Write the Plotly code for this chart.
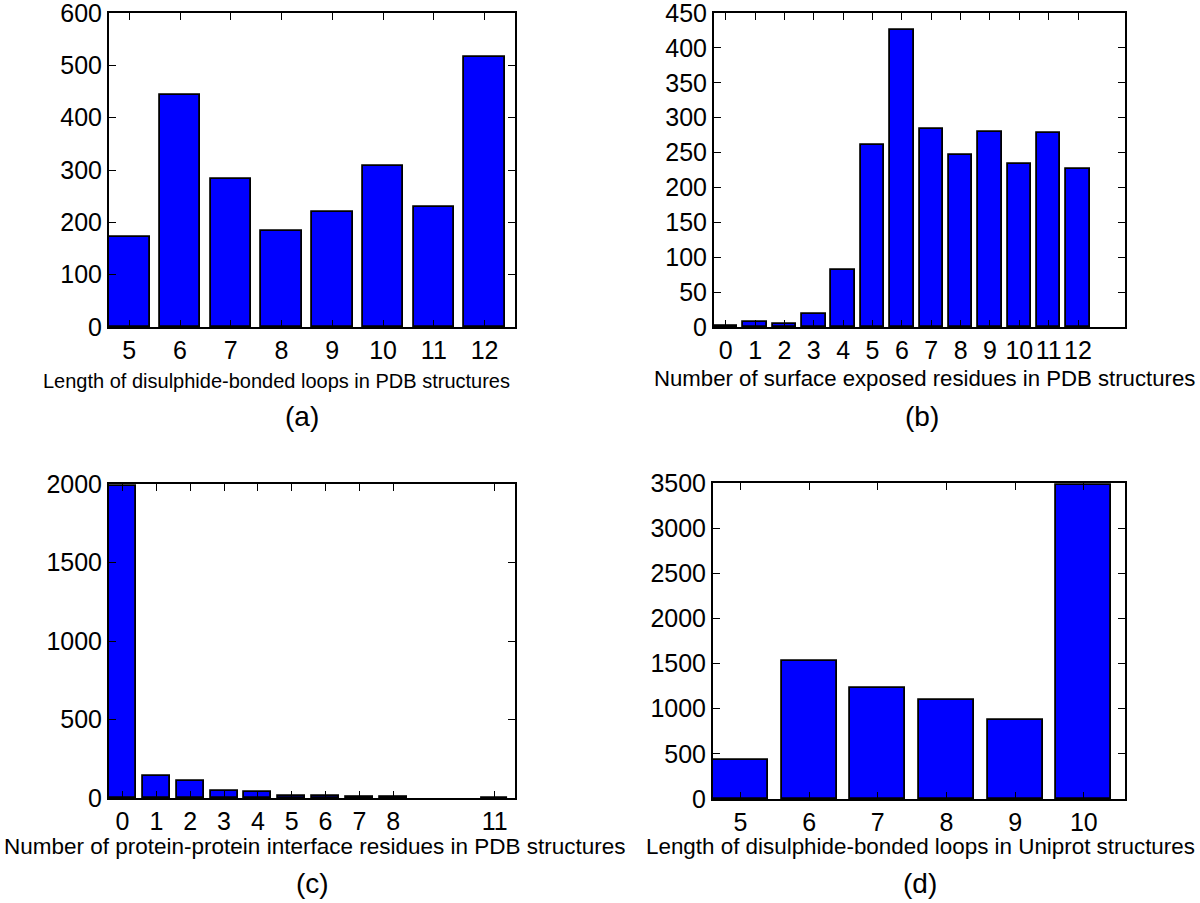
import plotly.graph_objects as go

W, H = 1200, 903

# ---- data ----
a_x = [5, 6, 7, 8, 9, 10, 11, 12]
a_y = [172, 443, 282, 183, 220, 308, 229, 515]

b_x = [0, 1, 2, 3, 4, 5, 6, 7, 8, 9, 10, 11, 12]
b_y = [2, 7, 5, 19, 81, 261, 425, 284, 247, 279, 234, 278, 227]

c_x = [0, 1, 2, 3, 4, 5, 6, 7, 8, 9, 10, 11]
c_y = [1990, 138, 110, 47, 38, 15, 10, 6, 5, 0, 0, 3]
c_ticks = [0, 1, 2, 3, 4, 5, 6, 7, 8, 11]

d_x = [5, 6, 7, 8, 9, 10]
d_y = [437, 1526, 1230, 1096, 874, 3478]

titles = [
    "Length of disulphide-bonded loops in PDB structures",
    "Number of surface exposed residues in PDB structures",
    "Number of protein-protein interface residues in PDB structures",
    "Length of disulphide-bonded loops in Uniprot structures",
]
labels = ["(a)", "(b)", "(c)", "(d)"]

FONT = "Liberation Sans, Arial, Helvetica, sans-serif"

# panel boxes in pixels: (left, right, top, bottom)
boxes = [
    (109, 515, 13, 327),
    (714, 1125, 13, 327),
    (109, 515, 484, 798),
    (713, 1125, 483, 799),
]
xranges = [[4.6, 12.6], [-0.4, 13.6], [-0.4, 11.6], [4.6, 10.6]]
yranges = [[0, 600], [0, 450], [0, 2000], [0, 3500]]
ydticks = [100, 50, 500, 500]
xtickvals = [a_x, b_x, c_ticks, d_x]
data = [(a_x, a_y), (b_x, b_y), (c_x, c_y), (d_x, d_y)]

# text positions (pixels): title center x, title center y, label center x, label center y, title size
text_pos = [
    (276, 381, 302, 416, 20),
    (924, 378, 922, 416, 22.2),
    (315, 846, 313, 883, 22.5),
    (920, 846, 920, 883, 22.4),
]

fig = go.Figure()

def px_x(p):
    return p / W

def px_y(p):
    return 1 - p / H

for i, ((xs, ys), box) in enumerate(zip(data, boxes)):
    n = i + 1
    xa = "x" if n == 1 else f"x{n}"
    ya = "y" if n == 1 else f"y{n}"
    fig.add_trace(go.Bar(
        x=xs, y=ys, width=0.8,
        marker=dict(color="#0000FF",
                    line=dict(color="black",
                              width=[1.8 if v > 0 else 0 for v in ys])),
        xaxis=xa, yaxis=ya, showlegend=False, hoverinfo="skip",
    ))
    l, r, t, b = box
    axcommon = dict(
        showline=True, linecolor="black", linewidth=2, mirror="ticks",
        ticks="inside", ticklen=7, tickwidth=1, tickcolor="black",
        showgrid=False, zeroline=False, automargin=False,
        tickfont=dict(family=FONT, size=25, color="black"),
        layer="above traces",
    )
    xkey = "xaxis" if n == 1 else f"xaxis{n}"
    ykey = "yaxis" if n == 1 else f"yaxis{n}"
    fig.update_layout(**{
        xkey: dict(
            domain=[px_x(l), px_x(r)], anchor=ya, range=xranges[i],
            tickmode="array", tickvals=xtickvals[i], tickangle=0,
            **axcommon,
        ),
        ykey: dict(
            domain=[px_y(b), px_y(t)], anchor=xa, range=yranges[i],
            tick0=0, dtick=ydticks[i], tickangle=0,
            **axcommon,
        ),
    })
    tx, ty, lx, ly, ts = text_pos[i]
    fig.add_annotation(
        text=titles[i], x=px_x(tx), y=px_y(ty), xref="paper", yref="paper",
        xanchor="center", yanchor="middle", showarrow=False,
        font=dict(family=FONT, size=ts, color="black"),
    )
    fig.add_annotation(
        text=labels[i], x=px_x(lx), y=px_y(ly), xref="paper", yref="paper",
        xanchor="center", yanchor="middle", showarrow=False,
        font=dict(family=FONT, size=28, color="black"),
    )

fig.update_layout(
    width=W, height=H,
    margin=dict(l=0, r=0, t=0, b=0),
    paper_bgcolor="white", plot_bgcolor="white",
    bargap=0,
    template="none",
)

fig.write_html(
    "out.html",
    config={"displayModeBar": False},
    post_script="document.body.style.margin='0';document.body.style.overflow='hidden';",
)
